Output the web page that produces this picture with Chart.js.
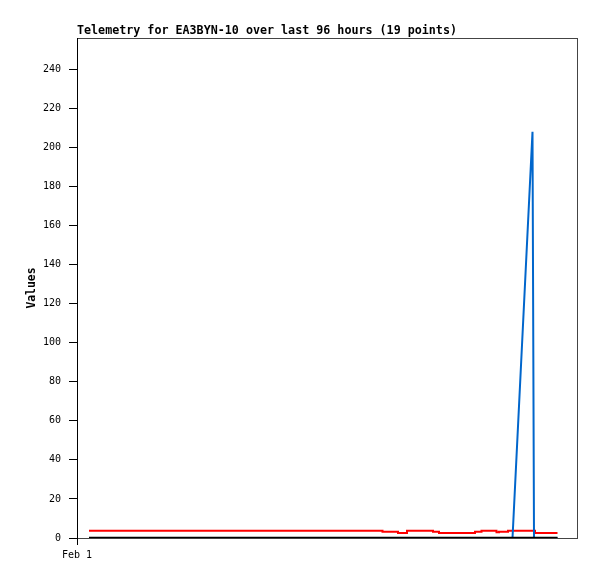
<!DOCTYPE html>
<html>
<head>
<meta charset="utf-8">
<script src="https://cdn.jsdelivr.net/npm/chart.js@4"></script>
<style>
  html, body { margin: 0; padding: 0; background: #fff; }
  #wrap { width: 597px; height: 579px; }
</style>
</head>
<body>
<div id="wrap"><canvas id="telemetryChart" width="597" height="579"></canvas></div>
<script>
// テレメトリのデータ（x は時間、左端 = Feb 1）
const chartTitle = 'Telemetry for EA3BYN-10 over last 96 hours (19 points)';
const yAxisTitle = 'Values';

const xTickValues = [0];
const xTickLabels = ['Feb 1'];

const blackHours = [2.4, 96.1];
const blackValues = [0, 0];

const blueHours = [2.4, 87.1, 91.1, 91.4, 96.1];
const blueValues = [0, 0, 208, 0, 0];

const redHours = [2.4, 61.1, 64.2, 66.0, 71.2, 72.4, 79.6, 80.9, 83.9, 84.4, 86.2, 91.6, 96.1];
const redValues = [3.7, 3.2, 2.6, 3.7, 3.2, 2.6, 3.2, 3.7, 3.0, 3.2, 3.7, 2.6, 2.6];

function toPoints(xs, ys) {
  return xs.map((x, i) => ({ x: x, y: ys[i] }));
}

const tickFont = { family: 'DejaVu Sans Mono', size: 10 };
const titleFont = { family: 'DejaVu Sans Mono', size: 11.7, weight: 'bold' };
const axisTitleFont = { family: 'DejaVu Sans Mono', size: 11.4, weight: 'bold' };

const ctx = document.getElementById('telemetryChart');
const telemetryChart = new Chart(ctx, {
  type: 'line',
  data: {
    datasets: [
      {
        data: toPoints(blackHours, blackValues),
        borderColor: '#000000',
        borderWidth: 2.5,
        pointRadius: 0,
        tension: 0
      },
      {
        data: toPoints(blueHours, blueValues),
        borderColor: '#0066cc',
        borderWidth: 2,
        pointRadius: 0,
        tension: 0
      },
      {
        data: toPoints(redHours, redValues),
        borderColor: '#ff0000',
        borderWidth: 2,
        pointRadius: 0,
        stepped: true
      }
    ]
  },
  options: {
    responsive: false,
    animation: false,
    events: [],
    layout: {
      padding: { left: 0, right: 20, top: 0, bottom: 0 }
    },
    plugins: {
      legend: { display: false },
      tooltip: { enabled: false },
      title: {
        display: true,
        text: chartTitle,
        align: 'start',
        fullSize: false,
        color: '#000',
        font: titleFont,
        padding: { top: 24, bottom: 0 }
      }
    },
    scales: {
      x: {
        type: 'linear',
        position: 'bottom',
        min: 0,
        max: 100,
        afterBuildTicks: function(axis) {
          axis.ticks = xTickValues.map(v => ({ value: v }));
        },
        afterFit: function(axis) {
          axis.height = 41;
        },
        ticks: {
          color: '#000',
          font: tickFont,
          padding: 4,
          maxRotation: 0,
          autoSkip: false,
          callback: function(value) {
            const i = xTickValues.indexOf(value);
            return i >= 0 ? xTickLabels[i] : '';
          }
        },
        grid: {
          drawOnChartArea: false,
          color: '#000',
          tickLength: 7
        },
        border: { display: true, color: '#444', width: 1 }
      },
      x2: {
        type: 'linear',
        position: 'top',
        min: 0,
        max: 100,
        ticks: { display: false },
        grid: { display: false, drawTicks: false },
        border: { display: true, color: '#444', width: 1 }
      },
      y: {
        type: 'linear',
        position: 'left',
        min: 0,
        max: 256,
        afterFit: function(axis) {
          axis.width = 77;
        },
        ticks: {
          stepSize: 20,
          includeBounds: false,
          color: '#000',
          font: tickFont,
          padding: 8
        },
        grid: {
          drawOnChartArea: false,
          color: '#000',
          tickLength: 8
        },
        border: { display: true, color: '#000', width: 1 },
        title: {
          display: true,
          text: yAxisTitle,
          color: '#000',
          font: axisTitleFont,
          padding: { top: 25, bottom: 0 }
        }
      },
      y2: {
        type: 'linear',
        position: 'right',
        min: 0,
        max: 256,
        ticks: { display: false },
        grid: { display: false, drawTicks: false },
        border: { display: true, color: '#444', width: 1 }
      }
    }
  }
});
</script>
</body>
</html>
